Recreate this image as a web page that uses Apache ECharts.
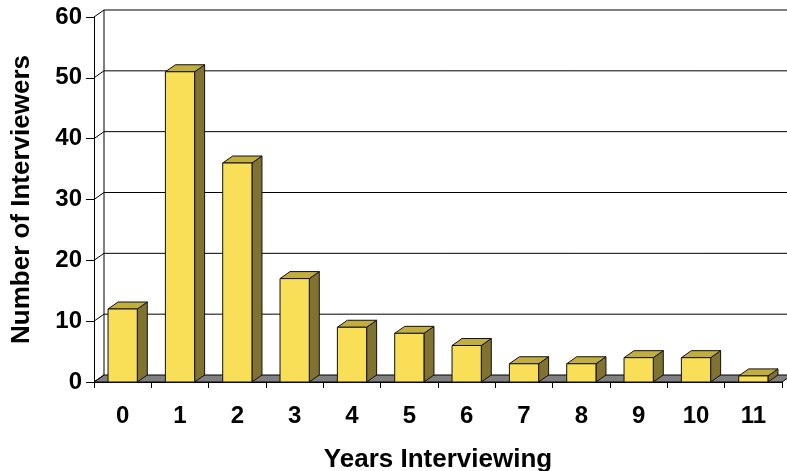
<!DOCTYPE html>
<html>
<head>
<meta charset="utf-8">
<script src="https://cdn.jsdelivr.net/npm/echarts@6/dist/echarts.min.js"></script>
<style>
  html, body { margin: 0; padding: 0; background: #fff; }
  #chart { width: 787px; height: 471px; }
</style>
</head>
<body>
<div id="chart"></div>
<script>
// Years of interviewing experience and how many interviewers fall into each
const years = ['0', '1', '2', '3', '4', '5', '6', '7', '8', '9', '10', '11'];
const interviewers = [12, 51, 36, 17, 9, 8, 6, 3, 3, 4, 4, 1];
const yTicks = [0, 10, 20, 30, 40, 50, 60];

// Pseudo-3D depth offset (pixels) for the back wall, floor and bar sides
const DX = 10;
const DY = -7;

const FONT = '"Liberation Sans", Arial, sans-serif';

const chart = echarts.init(document.getElementById('chart'), null, { renderer: 'canvas' });

// Back wall gridlines, the short depth lines at each tick, and the grey floor
function renderWalls(params, api) {
  const cs = params.coordSys;
  const x0 = cs.x, x1 = cs.x + cs.width;
  const children = [];
  const yBase = api.coord([0, 0])[1];
  children.push({
    type: 'polygon',
    shape: { points: [[x0, yBase], [x1, yBase], [x1 + DX, yBase + DY], [x0 + DX, yBase + DY]] },
    style: { fill: '#808080', stroke: '#000', lineWidth: 1 }
  });
  const yTop = api.coord([0, yTicks[yTicks.length - 1]])[1];
  children.push({
    type: 'line',
    shape: { x1: x0 + DX, y1: yTop + DY, x2: x0 + DX, y2: yBase + DY },
    style: { stroke: '#000', lineWidth: 1 }
  });
  yTicks.forEach(function (t) {
    const y = api.coord([0, t])[1];
    if (t > 0) {
      children.push({
        type: 'line',
        shape: { x1: x0 + DX, y1: y + DY, x2: x1 + DX + 20, y2: y + DY },
        style: { stroke: '#000', lineWidth: 1 }
      });
    }
    children.push({
      type: 'line',
      shape: { x1: x0, y1: y, x2: x0 + DX, y2: y + DY },
      style: { stroke: '#000', lineWidth: 1 }
    });
  });
  return { type: 'group', children: children };
}

// Box-shaped column: front face, top face and right side face
function renderBar(params, api) {
  const idx = api.value(0);
  const val = api.value(1);
  const top = api.coord([idx, val]);
  const base = api.coord([idx, 0]);
  const band = api.size([1, 0])[0];
  const w = band * 0.51;
  const xl = top[0] - w / 2, xr = top[0] + w / 2;
  const yt = top[1], yb = base[1];
  const stroke = { stroke: '#111', lineWidth: 1, lineJoin: 'round' };
  return {
    type: 'group',
    children: [
      {
        type: 'polygon',
        shape: { points: [[xr, yt], [xr + DX, yt + DY], [xr + DX, yb + DY], [xr, yb]] },
        style: Object.assign({ fill: '#807230' }, stroke)
      },
      {
        type: 'polygon',
        shape: { points: [[xl, yt], [xr, yt], [xr + DX, yt + DY], [xl + DX, yt + DY]] },
        style: Object.assign({ fill: '#C2AE3F' }, stroke)
      },
      {
        type: 'rect',
        shape: { x: xl, y: yt, width: w, height: yb - yt },
        style: Object.assign({ fill: '#F9DF57' }, stroke)
      }
    ]
  };
}

chart.setOption({
  animation: false,
  backgroundColor: '#fff',
  grid: { left: 94, right: 5, top: 17, bottom: 89, containLabel: false, outerBoundsMode: 'none' },
  xAxis: {
    type: 'category',
    data: years,
    boundaryGap: true,
    name: 'Years Interviewing',
    nameLocation: 'middle',
    nameGap: 65,
    nameTextStyle: { fontFamily: FONT, fontWeight: 'bold', fontSize: 26, color: '#000' },
    axisLine: { show: true, lineStyle: { color: '#000', width: 1 } },
    axisTick: { show: true, length: 6, interval: 0, alignWithLabel: false, lineStyle: { color: '#000' } },
    axisLabel: { interval: 0, margin: 22, fontFamily: FONT, fontWeight: 'bold', fontSize: 24, color: '#000' },
    splitLine: { show: false }
  },
  yAxis: {
    type: 'value',
    min: 0,
    max: 60,
    interval: 10,
    name: 'Number of Interviewers',
    nameLocation: 'middle',
    nameGap: 59,
    nameTextStyle: { fontFamily: FONT, fontWeight: 'bold', fontSize: 26, color: '#000' },
    axisLine: { show: true, lineStyle: { color: '#000', width: 1 } },
    axisTick: { show: true, length: 8, lineStyle: { color: '#000' } },
    axisLabel: { margin: 12, fontFamily: FONT, fontWeight: 'bold', fontSize: 24, color: '#000' },
    splitLine: { show: false }
  },
  series: [
    {
      type: 'custom',
      name: 'walls',
      renderItem: renderWalls,
      data: [[0, 0]],
      z: 1,
      silent: true
    },
    {
      type: 'custom',
      name: 'Number of Interviewers',
      renderItem: renderBar,
      data: interviewers.map(function (v, i) { return [i, v]; }),
      encode: { x: 0, y: 1 },
      z: 2
    }
  ]
});
</script>
</body>
</html>
